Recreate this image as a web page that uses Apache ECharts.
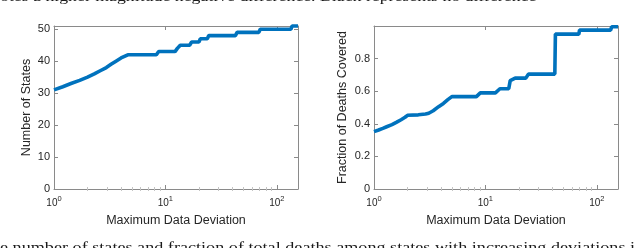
<!DOCTYPE html>
<html><head><meta charset="utf-8">
<script src="https://cdn.jsdelivr.net/npm/echarts@6/dist/echarts.min.js"></script>
<style>html,body{margin:0;padding:0;background:#fff}#c{width:640px;height:248px}</style>
</head><body><div id="c"></div>
<script>
// ---- data ----
const xMin = 1, xMax = 155;
const xTickValues = [1, 10, 100];
const xMinorTickValues = [2,3,4,5,6,7,8,9,20,30,40,50,60,70,80,90];
const statesTicks = [0, 10, 20, 30, 40, 50];
const statesMax = 51;
const fractionTicks = [0, 0.2, 0.4, 0.6, 0.8];
const fractionMax = 1;
// [max data deviation, number of states]
const statesCovered = [
  [1.0,31],[1.2,32],[1.42,33],[1.7,34],[2.0,35],[2.3,36],[2.6,37],[2.95,38],[3.25,39],
  [3.6,40],[4.0,41],[4.6,42],[8.3,42],[8.7,43],[12.2,43],[12.8,44],[13.6,45],[16.5,45],
  [17.2,46],[20,46],[20.6,47],[23.8,47],[24.5,48],[42.5,48],[44,49],[69,49],[71,50],
  [134,50],[137,51],[155,51]
];
// [max data deviation, fraction of deaths covered]
const deathsCovered = [
  [1.0,0.352],[1.1,0.362],[1.2,0.372],[1.3,0.382],[1.45,0.395],[1.6,0.41],[1.75,0.425],
  [1.9,0.44],[2.0,0.452],[2.5,0.455],[2.9,0.46],[3.1,0.465],[3.4,0.48],[3.8,0.505],
  [4.2,0.525],[4.6,0.548],[5.0,0.567],[8.3,0.567],[9.0,0.59],[12.3,0.59],[13.5,0.615],
  [16.2,0.615],[16.7,0.665],[18.5,0.68],[23,0.68],[24.4,0.705],[42,0.705],[42.5,0.95],
  [69,0.95],[70,0.975],[133,0.975],[136,0.995],[155,0.995]
];
const xTitle = 'Maximum Data Deviation';
const yTitleLeft = 'Number of States';
const yTitleRight = 'Fraction of Deaths Covered';
const captionTop = 'otes a higher magnitude negative difference. Black represents no difference';
const captionBottom = 'e number of states and fraction of total deaths among states with increasing deviations i';

// ---- style ----
const FRAME = '#8a8a8a';
const TXT = '#262626';
const LINE = '#0072BD';
const FONT = '"Liberation Sans", Arial, sans-serif';

function xAxesFor(g) {
  const base = {gridIndex: g, type: 'log', logBase: 10, min: xMin, max: xMax,
    splitLine: {show: false}, axisLine: {show: true, onZero: false, lineStyle: {color: FRAME, width: 1}}};
  return [
    Object.assign({}, base, {position: 'bottom',
      axisTick: {show: true, inside: true, length: 4, customValues: xTickValues, lineStyle: {color: FRAME}},
      axisLabel: {show: true, customValues: xTickValues, margin: 6, color: TXT,
        formatter: v => '{a|10}{b|' + Math.round(Math.log10(v)) + '}',
        rich: {a: {fontSize: 10, fontFamily: FONT, color: TXT, verticalAlign: 'bottom', lineHeight: 13},
               b: {fontSize: 7.5, fontFamily: FONT, color: TXT, verticalAlign: 'top', lineHeight: 13}}},
      name: xTitle, nameLocation: 'middle', nameGap: 25,
      nameTextStyle: {fontSize: 12.5, fontFamily: FONT, color: TXT}}),
    Object.assign({}, base, {position: 'top',
      axisTick: {show: true, inside: true, length: 4, customValues: xTickValues, lineStyle: {color: FRAME}},
      axisLabel: {show: false}}),
    Object.assign({}, base, {position: 'bottom', axisLine: {show: false},
      axisTick: {show: true, inside: true, length: 2, customValues: xMinorTickValues, lineStyle: {color: '#c4c4c4'}},
      axisLabel: {show: false}}),
    Object.assign({}, base, {position: 'top', axisLine: {show: false},
      axisTick: {show: true, inside: true, length: 2, customValues: xMinorTickValues, lineStyle: {color: '#c4c4c4'}},
      axisLabel: {show: false}})
  ];
}
function yAxesFor(g, max, ticks, title, gap, fmt) {
  const base = {gridIndex: g, type: 'value', min: 0, max: max, splitLine: {show: false},
    axisLine: {show: true, onZero: false, lineStyle: {color: FRAME, width: 1}}};
  return [
    Object.assign({}, base, {position: 'left',
      axisTick: {show: true, inside: true, length: 4, customValues: ticks, lineStyle: {color: FRAME}},
      axisLabel: {show: true, customValues: ticks, margin: 4, fontSize: 11, fontFamily: FONT, color: TXT, formatter: fmt},
      name: title, nameLocation: 'middle', nameGap: gap,
      nameTextStyle: {fontSize: 12.5, fontFamily: FONT, color: TXT}}),
    Object.assign({}, base, {position: 'right',
      axisTick: {show: true, inside: true, length: 4, customValues: ticks, lineStyle: {color: FRAME}},
      axisLabel: {show: false}})
  ];
}

const chart = echarts.init(document.getElementById('c'), null, {renderer: 'canvas'});
chart.setOption({
  animation: false,
  backgroundColor: '#fff',
  grid: [
    {left: 54, top: 26, width: 244, height: 163, containLabel: false, outerBoundsMode: 'none'},
    {left: 374, top: 26, width: 244, height: 163, containLabel: false, outerBoundsMode: 'none'}
  ],
  xAxis: [].concat(xAxesFor(0), xAxesFor(1)),
  yAxis: [].concat(
    yAxesFor(0, statesMax, statesTicks, yTitleLeft, 21, v => String(v)),
    yAxesFor(1, fractionMax, fractionTicks, yTitleRight, 25, v => v === 0 ? '0' : String(v))
  ),
  series: [
    {type: 'line', xAxisIndex: 0, yAxisIndex: 0, data: statesCovered, showSymbol: false, clip: false,
     lineStyle: {color: LINE, width: 3.6}, itemStyle: {color: LINE}},
    {type: 'line', xAxisIndex: 4, yAxisIndex: 2, data: deathsCovered, showSymbol: false, clip: false,
     lineStyle: {color: LINE, width: 3.6}, itemStyle: {color: LINE}}
  ],
  graphic: [
    {type: 'text', x: 0, y: 0, scaleX: 1.185, style: {text: captionTop, x: 0, y: -2.5, font: '15px "Liberation Serif", serif', fill: '#1a1a1a', verticalAlign: 'middle'}},
    {type: 'text', x: 0, y: 0, scaleX: 1.21, style: {text: captionBottom, x: 0, y: 248.5, font: '15px "Liberation Serif", serif', fill: '#1a1a1a', verticalAlign: 'middle'}}
  ]
});
</script>
</body></html>
